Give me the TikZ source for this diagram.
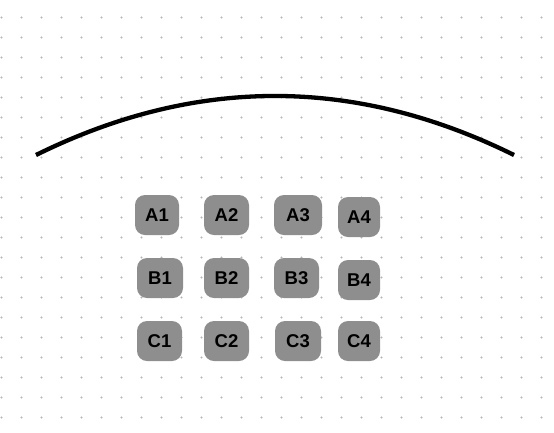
\documentclass[tikz,border=0pt]{standalone}
\usepackage{fontspec}
\setmainfont{Liberation Sans}
\definecolor{cellgray}{RGB}{142,142,142}
\definecolor{dotgray}{RGB}{180,180,180}
\tikzset{
  cell/.style={fill=cellgray, rounded corners=10pt, minimum height=40pt,
    inner sep=0pt, font=\bfseries\fontsize{18.5}{20}\selectfont, text=black},
}
\begin{document}
\begin{tikzpicture}[x=1pt, y=-1pt]
\useasboundingbox (0,0) rectangle (554,432);

% dot grid
\foreach \i in {0,...,27} {
  \foreach \j in {0,...,20} {
    \fill[dotgray] (\i*20+1.5, \j*20+17.5) circle (1.1);
  }
}

% arc
\coordinate (arcL) at (36,155);
\coordinate (arcR) at (514,155);
\draw[line width=4.3pt] (arcL) .. controls (195.3,76.3) and (354.7,76.3) .. (arcR);

% cells
\foreach \n/\x/\y/\w in {A1/157/215/44, A2/226.5/215/45, A3/298/215/48, A4/359/217/42,
                         B1/160/278/46, B2/226.5/278/45, B3/296.5/278/45, B4/359/280/42,
                         C1/159.5/341/45, C2/226.5/341/45, C3/298/341/46, C4/359/341/42} {
  \node[cell, minimum width=\w pt] (\n) at (\x,\y) {\n};
}
\end{tikzpicture}
\end{document}
